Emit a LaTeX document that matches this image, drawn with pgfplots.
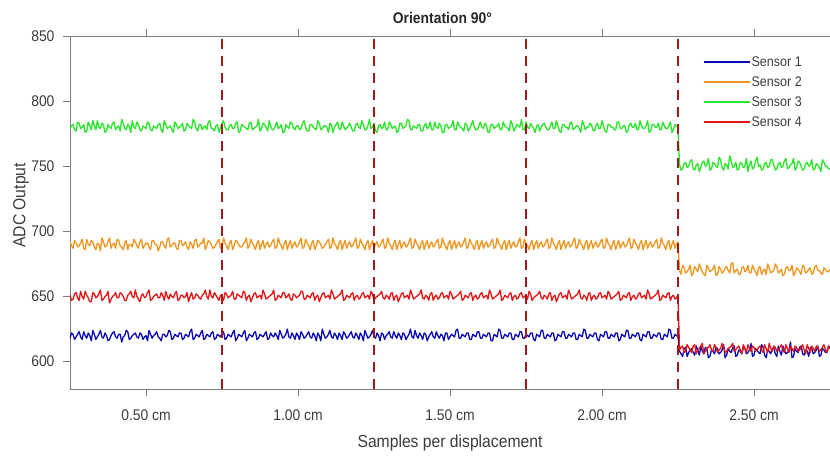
\documentclass[border=0pt]{standalone}
\usepackage{fontspec}
\setmainfont{Liberation Sans}[FakeStretch=0.9]
\usepackage{pgfplots}
\usepackage{pgfplotstable}
\pgfplotsset{compat=1.18}

\definecolor{sone}{RGB}{10,10,180}
\definecolor{stwo}{RGB}{240,150,30}
\definecolor{sthree}{RGB}{40,230,40}
\definecolor{sfour}{RGB}{228,20,20}
\definecolor{divider}{RGB}{165,25,25}
\definecolor{axisgray}{RGB}{125,125,125}
\definecolor{labelgray}{RGB}{60,60,60}

% ADC readings of the four sensors, one row per sample position (cm)
\pgfplotstableread{
x s1 s2 s3 s4
0.25 618 692 779 651
0.255 622 689 781 647
0.26 621 687 782 648
0.265 617 693 778 652
0.27 619 691 777 653
0.275 621 688 784 649
0.28 623 689 783 647
0.285 619 691 779 654
0.29 617 694 780 650
0.295 623 687 782 648
0.30 620 686 776 654
0.305 618 694 777 651
0.31 622 690 784 649
0.315 620 689 781 646
0.32 616 693 778 646
0.325 624 692 785 653
0.33 621 688 781 652
0.335 617 686 778 649
0.34 619 691 785 650
0.345 621 690 780 652
0.35 624 685 779 655
0.355 619 695 783 647
0.36 618 692 782 648
0.365 622 688 776 650
0.37 620 689 777 651
0.375 616 692 782 654
0.38 617 695 780 645
0.385 620 687 779 648
0.39 622 690 783 650
0.395 623 691 784 651
0.40 619 687 778 653
0.405 618 694 780 649
0.41 621 693 781 649
0.415 621 689 777 653
0.42 615 688 786 652
0.425 619 686 783 650
0.43 620 691 779 647
0.435 624 693 778 647
0.44 623 686 782 651
0.445 617 690 781 652
0.45 618 690 776 654
0.455 620 688 785 650
0.46 621 694 780 649
0.465 622 692 779 655
0.47 619 689 784 650
0.475 618 687 782 648
0.48 622 692 778 646
0.485 621 694 777 651
0.49 617 687 781 652
0.495 619 689 780 649
0.50 620 691 779 650
0.505 616 691 784 653
0.51 624 688 783 655
0.515 621 686 778 647
0.52 618 693 777 648
0.525 620 693 781 650
0.53 621 690 780 651
0.535 623 690 779 652
0.54 619 685 782 649
0.545 618 688 783 649
0.55 616 692 778 653
0.555 621 692 776 651
0.56 621 689 785 647
0.565 619 687 782 654
0.57 620 694 779 650
0.575 624 695 780 648
0.58 623 688 781 652
0.585 617 689 778 650
0.59 618 691 776 649
0.595 621 691 784 652
0.60 620 687 782 654
0.605 619 686 779 647
0.61 622 693 780 648
0.615 622 693 781 651
0.62 617 689 783 651
0.625 618 690 777 649
0.63 621 692 778 650
0.635 620 688 783 653
0.64 619 686 781 646
0.645 623 692 780 650
0.65 625 690 779 653
0.655 617 687 786 648
0.66 618 693 784 649
0.665 621 694 779 652
0.67 620 688 777 651
0.675 619 689 782 649
0.68 622 691 782 648
0.685 624 691 778 651
0.69 617 695 780 652
0.695 618 686 781 655
0.70 621 689 778 650
0.705 620 693 784 648
0.71 619 692 785 655
0.715 622 690 779 650
0.72 623 687 779 649
0.725 617 688 777 653
0.73 618 690 781 651
0.735 621 692 782 649
0.74 620 694 776 647
0.745 619 687 780 651
0.75 622 688 783 650
0.755 623 695 785 647
0.76 617 691 780 653
0.765 618 689 778 652
0.77 621 686 778 649
0.775 620 691 781 650
0.78 619 693 782 651
0.785 622 686 779 654
0.79 624 689 779 648
0.795 616 693 783 648
0.80 618 692 784 652
0.805 621 690 776 651
0.81 620 688 777 650
0.815 619 688 782 649
0.82 622 690 781 654
0.825 624 692 780 653
0.83 616 695 779 647
0.835 618 687 778 650
0.84 621 689 783 651
0.845 620 694 784 646
0.85 619 691 778 649
0.855 622 689 779 652
0.86 623 686 780 653
0.865 617 691 781 649
0.87 618 693 786 650
0.875 621 686 777 651
0.88 620 690 779 648
0.885 619 693 783 655
0.89 621 687 782 652
0.895 623 690 780 648
0.90 617 692 777 649
0.905 618 688 785 650
0.91 622 689 781 651
0.915 620 692 778 652
0.92 619 694 778 655
0.925 622 687 781 647
0.93 620 688 784 648
0.935 617 695 779 651
0.94 624 691 780 650
0.945 621 689 782 649
0.95 618 686 776 653
0.955 619 691 776 653
0.96 621 693 782 649
0.965 625 686 780 650
0.97 619 690 779 652
0.975 618 693 784 648
0.98 622 687 783 647
0.985 620 690 779 652
0.99 617 692 778 651
0.995 622 688 781 649
1.00 620 689 781 650
1.005 617 692 778 651
1.01 623 695 779 654
1.015 621 687 783 654
1.02 618 688 785 648
1.025 619 694 780 648
1.03 621 691 777 651
1.035 623 689 777 650
1.04 619 686 782 649
1.045 618 691 782 652
1.05 622 693 780 653
1.055 620 686 779 647
1.06 616 689 778 650
1.065 622 693 785 651
1.07 620 692 783 646
1.075 616 690 778 649
1.08 625 687 779 652
1.085 621 688 781 653
1.09 618 690 781 649
1.095 619 692 780 650
1.10 621 694 776 651
1.105 624 687 783 648
1.11 619 688 782 655
1.115 618 695 776 652
1.12 622 691 780 648
1.125 620 689 782 649
1.13 617 686 784 650
1.135 622 691 779 651
1.14 620 693 778 652
1.145 617 686 784 655
1.15 623 690 781 647
1.155 621 693 778 648
1.16 618 687 779 651
1.165 619 690 781 650
1.17 621 692 783 649
1.175 623 688 780 652
1.18 619 689 777 653
1.185 618 692 777 647
1.19 622 695 782 650
1.195 620 687 783 651
1.20 617 688 780 648
1.205 622 694 779 649
1.21 620 691 785 652
1.215 616 689 782 653
1.22 624 686 778 649
1.225 621 691 778 650
1.23 618 693 781 651
1.235 619 686 786 648
1.24 621 690 779 654
1.245 624 693 780 652
1.25 619 687 783 647
1.255 618 690 777 649
1.26 622 692 776 650
1.265 620 688 781 651
1.27 616 689 782 652
1.275 622 692 779 654
1.28 621 694 780 649
1.285 617 687 784 648
1.29 620 688 778 651
1.295 621 695 778 650
1.30 623 691 784 648
1.305 619 689 782 652
1.31 618 686 779 653
1.315 623 691 780 647
1.32 620 693 781 650
1.325 618 686 776 651
1.33 622 690 777 646
1.335 620 693 783 649
1.34 617 687 783 652
1.345 622 690 779 653
1.35 621 692 780 649
1.355 617 688 781 650
1.36 619 689 786 651
1.365 621 692 785 648
1.37 625 695 778 655
1.375 619 687 778 652
1.38 618 688 781 648
1.385 624 694 780 649
1.39 620 691 779 650
1.395 618 689 782 651
1.40 622 686 782 652
1.405 620 691 777 655
1.41 617 693 777 649
1.415 622 686 781 648
1.42 621 690 783 651
1.425 616 693 779 650
1.43 619 687 780 647
1.435 621 690 784 652
1.44 623 692 778 653
1.445 619 688 778 647
1.45 618 689 784 650
1.455 623 692 780 651
1.46 620 694 779 648
1.465 618 687 783 649
1.47 621 688 781 652
1.475 620 695 776 653
1.48 616 691 776 649
1.485 622 689 782 650
1.49 622 686 782 651
1.495 617 691 779 648
1.50 619 693 780 654
1.505 621 686 781 652
1.51 620 690 785 648
1.515 619 693 778 649
1.52 624 687 778 650
1.525 625 690 784 651
1.53 618 692 781 652
1.535 618 688 780 654
1.54 621 689 779 647
1.545 620 692 777 648
1.55 619 695 783 651
1.555 622 687 782 650
1.56 622 688 777 649
1.565 617 694 779 652
1.57 617 691 782 653
1.575 621 689 785 647
1.58 620 686 780 650
1.585 619 691 778 651
1.59 623 693 778 648
1.595 623 686 781 649
1.60 618 690 784 652
1.605 618 693 780 653
1.61 621 687 779 649
1.615 620 690 783 650
1.62 619 692 781 651
1.625 622 688 776 648
1.63 622 689 776 655
1.635 616 692 782 652
1.64 616 694 782 648
1.645 621 687 779 649
1.65 620 688 780 650
1.655 619 695 781 651
1.66 625 691 783 652
1.665 624 689 778 655
1.67 618 686 778 647
1.675 618 691 784 648
1.68 621 693 781 651
1.685 620 686 780 650
1.69 619 690 779 649
1.695 622 693 777 652
1.70 622 687 785 653
1.705 617 690 782 647
1.71 617 692 777 650
1.715 621 688 779 651
1.72 620 689 782 648
1.725 619 692 781 649
1.73 623 695 780 652
1.735 623 687 786 653
1.74 618 688 778 649
1.745 618 694 778 650
1.75 621 691 784 651
1.755 620 689 780 648
1.76 619 686 779 654
1.765 622 691 783 652
1.77 622 693 781 647
1.775 617 686 779 649
1.78 616 690 776 650
1.785 621 693 781 651
1.79 620 687 782 652
1.795 619 690 777 654
1.80 624 692 780 649
1.805 624 688 782 648
1.81 618 689 783 651
1.815 618 692 780 650
1.82 621 694 778 648
1.825 620 687 778 652
1.83 619 688 781 653
1.835 622 695 784 647
1.84 622 691 779 650
1.845 616 689 779 651
1.85 617 686 785 646
1.855 621 691 781 649
1.86 620 693 777 652
1.865 619 686 776 653
1.87 623 690 782 649
1.875 623 693 782 650
1.88 618 687 780 651
1.885 618 690 780 648
1.89 621 692 778 655
1.895 620 688 783 652
1.90 619 689 784 648
1.905 622 692 778 649
1.91 622 695 779 650
1.915 617 687 781 651
1.92 617 688 781 652
1.925 621 694 779 655
1.93 620 691 776 649
1.935 619 689 785 648
1.94 625 686 782 651
1.945 624 691 778 650
1.95 618 693 780 647
1.955 618 686 780 652
1.96 621 690 783 653
1.965 620 693 782 647
1.97 619 687 778 650
1.975 622 690 777 651
1.98 622 692 781 648
1.985 617 688 783 649
1.99 616 689 779 652
1.995 621 692 779 653
2.00 620 694 785 649
2.005 619 687 781 650
2.01 623 688 777 651
2.015 623 695 776 648
2.02 618 691 782 654
2.025 618 689 782 652
2.03 621 686 780 648
2.035 620 691 780 649
2.04 619 693 778 650
2.045 622 686 778 651
2.05 622 690 784 652
2.055 616 693 784 654
2.06 617 687 779 647
2.065 621 690 779 648
2.07 620 692 781 651
2.075 619 688 781 650
2.08 624 689 776 649
2.085 624 692 777 652
2.09 618 695 782 653
2.095 618 687 783 647
2.10 621 688 780 650
2.105 620 694 780 651
2.11 619 691 783 648
2.115 622 689 778 649
2.12 622 686 778 652
2.125 617 691 785 653
2.13 616 693 781 649
2.135 621 686 779 650
2.14 620 690 779 651
2.145 619 693 781 648
2.15 623 687 785 655
2.155 623 690 776 652
2.16 618 692 777 648
2.165 618 688 782 649
2.17 621 689 782 650
2.175 620 692 780 651
2.18 619 694 780 652
2.185 622 687 783 655
2.19 622 688 778 647
2.195 617 695 778 648
2.20 617 691 784 651
2.205 621 689 781 650
2.21 620 686 779 649
2.215 619 691 779 652
2.22 625 693 781 653
2.225 624 686 784 647
2.23 618 690 776 650
2.235 618 693 778 651
2.24 621 687 782 648
2.245 620 690 781 649
2.25 619 692 780 651
2.255 608 670 751 609
2.26 606 667 747 611
2.265 604 674 748 612
2.27 610 672 752 607
2.275 611 668 753 608
2.28 604 669 749 613
2.285 607 671 750 611
2.29 609 674 754 609
2.295 610 666 755 607
2.30 607 668 748 612
2.305 605 673 747 613
2.31 612 671 751 606
2.315 609 669 752 609
2.32 605 675 746 610
2.325 612 672 749 612
2.33 608 669 753 614
2.335 606 667 754 606
2.34 611 666 750 608
2.345 610 674 751 610
2.35 603 672 756 611
2.355 604 669 747 613
2.36 609 670 748 609
2.365 608 671 753 608
2.37 606 674 752 613
2.375 611 666 750 611
2.38 610 667 749 607
2.385 606 673 757 609
2.39 607 671 755 610
2.395 609 668 749 614
2.40 613 669 747 612
2.405 603 672 752 607
2.41 605 673 751 608
2.415 610 670 748 610
2.42 608 668 758 611
2.425 607 675 754 612
2.43 611 676 749 614
2.435 612 668 750 608
2.44 604 670 753 609
2.445 605 671 747 611
2.45 609 667 748 612
2.455 608 667 753 609
2.46 606 672 752 606
2.465 611 673 749 613
2.47 610 669 750 610
2.475 606 670 756 607
2.48 607 674 746 613
2.485 609 668 751 610
2.49 614 668 754 608
2.495 604 674 748 612
2.50 605 671 749 611
2.505 610 669 754 608
2.51 609 666 757 609
2.515 607 672 750 611
2.52 606 673 751 612
2.525 613 667 747 609
2.53 611 670 748 607
2.535 605 671 752 613
2.54 603 667 753 610
2.545 609 675 749 607
2.55 608 672 750 614
2.555 606 668 755 610
2.56 610 669 755 608
2.565 611 670 751 612
2.57 606 675 747 611
2.575 604 673 748 608
2.58 612 668 752 609
2.585 608 669 753 611
2.59 605 671 749 613
2.595 612 666 750 609
2.60 609 667 754 607
2.605 606 672 756 613
2.61 607 673 748 610
2.615 609 670 749 607
2.62 615 670 751 612
2.625 603 674 752 610
2.63 604 666 756 608
2.635 610 668 747 612
2.64 608 672 749 611
2.645 607 671 754 608
2.65 611 669 753 609
2.655 612 667 750 611
2.66 606 674 747 613
2.665 605 673 748 609
2.67 609 668 752 606
2.675 608 669 753 613
2.68 604 671 750 610
2.685 611 672 751 607
2.69 610 667 755 612
2.695 606 668 747 610
2.70 607 673 748 608
2.705 609 674 752 612
2.71 612 670 751 611
2.715 604 670 749 608
2.72 605 668 746 609
2.725 610 667 755 611
2.73 609 672 753 613
2.735 607 671 750 609
2.74 607 669 750 607
2.745 612 669 748 612
2.75 611 671 748 610
}\readings

\begin{document}
\begin{tikzpicture}
\begin{axis}[
  name=ax,
  scale only axis,
  width=760bp, height=353bp,
  xmin=0.25, xmax=2.75,
  ymin=579, ymax=850,
  axis x line*=box,
  axis y line*=left,
  axis line style={axisgray, line width=0.8bp},
  tick style={axisgray, line width=0.8bp},
  tick align=outside,
  major tick length=7bp,
  xtick={0.5,1,1.5,2,2.5},
  xticklabels={0.50 cm,1.00 cm,1.50 cm,2.00 cm,2.50 cm},
  xticklabel pos=bottom,
  ytick={600,650,700,750,800,850},
  /pgf/number format/assume math mode=true,
  ticklabel style={font=\fontsize{15.5}{17}\selectfont, text=labelgray},
  xticklabel style={yshift=-10bp},
  yticklabel style={xshift=-5bp},
  xlabel={Samples per displacement},
  ylabel={ADC Output},
  label style={font=\fontsize{17.5}{20}\selectfont, text=labelgray},
  xlabel style={at={(axis description cs:0.5,0)}, anchor=center, yshift=-54bp},
  ylabel style={at={(axis description cs:-0.0645,0.52)}, anchor=center},
  title={Orientation 90°},
  title style={at={(axis description cs:0.49,1)}, anchor=base, yshift=7bp,
    font=\bfseries\fontsize{15.5}{17}\selectfont, text=black!85},
  legend style={draw=none, fill=none, at={(axis description cs:0.833,0.955)},
    anchor=north west, inner sep=0pt, font=\fontsize{14}{16}\selectfont,
    text=labelgray, nodes={inner sep=1bp, minimum height=20bp}},
  legend cell align=left,
  legend image code/.code={\draw[#1, line width=1.3bp] (0bp,0bp) -- (46bp,0bp);},
  every axis plot/.append style={line width=1.3bp, line join=round},
]
\addplot[sone] table[x=x, y=s1] {\readings};
\addlegendentry{Sensor 1}
\addplot[stwo] table[x=x, y=s2] {\readings};
\addlegendentry{Sensor 2}
\addplot[sthree] table[x=x, y=s3] {\readings};
\addlegendentry{Sensor 3}
\addplot[sfour] table[x=x, y=s4] {\readings};
\addlegendentry{Sensor 4}

% boundaries between displacement steps
\addplot[divider, line width=1.2bp, dash pattern=on 10bp off 7bp, forget plot] coordinates {(0.75,579) (0.75,850)};
\addplot[divider, line width=1.2bp, dash pattern=on 10bp off 7bp, forget plot] coordinates {(1.25,579) (1.25,850)};
\addplot[divider, line width=1.2bp, dash pattern=on 10bp off 7bp, forget plot] coordinates {(1.75,579) (1.75,850)};
\addplot[divider, line width=1.2bp, dash pattern=on 10bp off 7bp, forget plot] coordinates {(2.25,579) (2.25,850)};
\end{axis}
\pgfresetboundingbox
\path[use as bounding box] ([xshift=-70bp,yshift=-67bp]ax.south west) rectangle ([yshift=36bp]ax.north east);
\end{tikzpicture}
\end{document}
